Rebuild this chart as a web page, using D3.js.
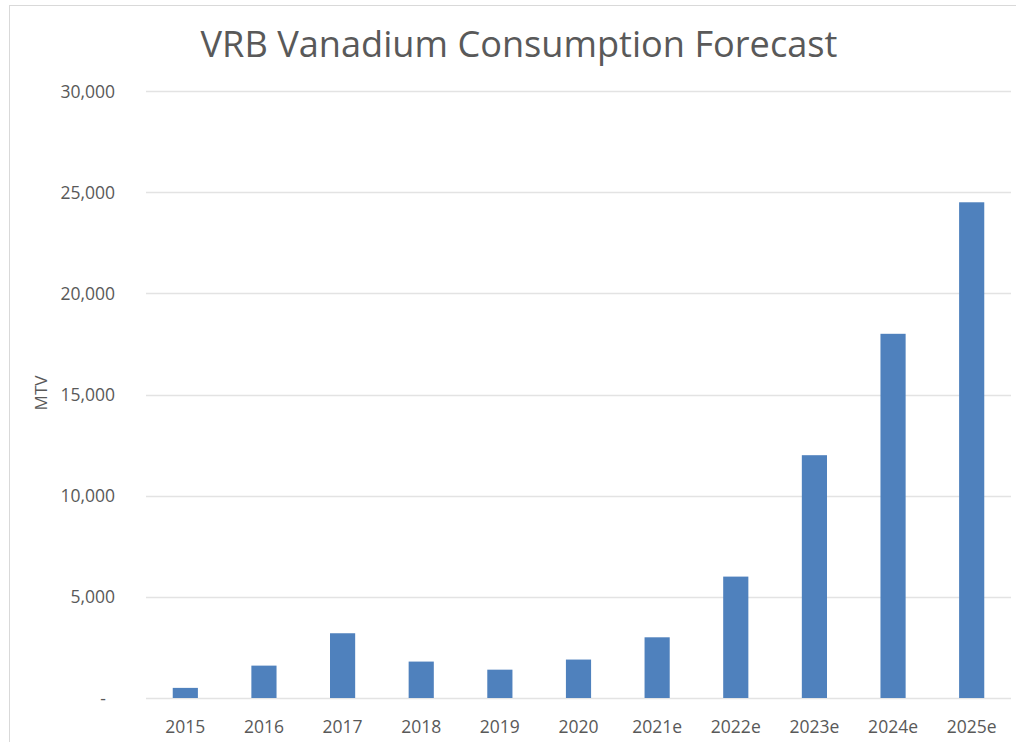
<!DOCTYPE html>
<html>
<head>
<meta charset="utf-8">
<script src="https://cdn.jsdelivr.net/npm/d3@7"></script>
<style>
  html, body { margin: 0; padding: 0; background: #fff; }
  svg { display: block; }
  text { font-family: "Open Sans", sans-serif; fill: #595959; }
</style>
</head>
<body>
<svg id="chart" width="1016" height="742"></svg>
<script>
const categories = ["2015", "2016", "2017", "2018", "2019", "2020", "2021e", "2022e", "2023e", "2024e", "2025e"];
const values = [500, 1600, 3200, 1800, 1400, 1900, 3000, 6000, 12000, 18000, 24500];
const yTicks = [0, 5000, 10000, 15000, 20000, 25000, 30000];
const titleText = "VRB Vanadium Consumption Forecast";
const yAxisTitle = "MTV";

const svg = d3.select("#chart");

// frame
svg.append("rect")
  .attr("x", 9.5).attr("y", 5.5).attr("width", 1020).attr("height", 760)
  .attr("fill", "none").attr("stroke", "#d9d9d9").attr("stroke-width", 1);

const plot = { left: 146, right: 1011, top: 91, bottom: 698 };

const x = d3.scaleBand().domain(categories)
  .range([plot.left, plot.right]).paddingInner(0.68).paddingOuter(0.34);
const y = d3.scaleLinear().domain([0, 30000]).range([plot.bottom, plot.top]);

// gridlines
svg.append("g").selectAll("line").data(yTicks).join("line")
  .attr("x1", plot.left).attr("x2", plot.right)
  .attr("y1", d => Math.round(y(d)) + 0.5).attr("y2", d => Math.round(y(d)) + 0.5)
  .attr("stroke", "#e3e3e3").attr("stroke-width", 1.3);

// y axis labels
const yAxis = d3.axisLeft(y).tickValues(yTicks)
  .tickFormat(d => d === 0 ? "-" : d3.format(",")(d)).tickSize(0).tickPadding(0);
const gy = svg.append("g").attr("transform", "translate(115,0)").call(yAxis);
gy.select(".domain").remove();
gy.selectAll("text")
  .attr("font-family", "Open Sans, sans-serif").attr("font-size", 17.5).attr("fill", "#595959")
  .attr("dy", "0.35em")
  .attr("dx", d => d === 0 ? -9 : 0);

// x axis labels
const xAxis = d3.axisBottom(x).tickSize(0).tickPadding(0);
const gx = svg.append("g").attr("transform", "translate(0,733)").call(xAxis);
gx.select(".domain").remove();
gx.selectAll("text")
  .attr("font-family", "Open Sans, sans-serif").attr("font-size", 17.5).attr("fill", "#595959")
  .attr("dy", 0).attr("y", 0);

// bars
svg.append("g").selectAll("rect").data(values).join("rect")
  .attr("x", (d, i) => x(categories[i]))
  .attr("width", x.bandwidth())
  .attr("y", d => y(d))
  .attr("height", d => y(0) - y(d))
  .attr("fill", "#4f81bd");

// title
const t = svg.append("text").attr("x", 519).attr("y", 57)
  .attr("text-anchor", "middle").attr("font-size", 33).attr("fill", "#595959")
  .text(titleText);
const w = t.node().getComputedTextLength();
t.attr("font-size", 33 * 637 / w);

// y axis title
svg.append("text")
  .attr("transform", "translate(46.5,393) rotate(-90)")
  .attr("text-anchor", "middle").attr("font-size", 17).attr("fill", "#595959")
  .text(yAxisTitle);
</script>
</body>
</html>
